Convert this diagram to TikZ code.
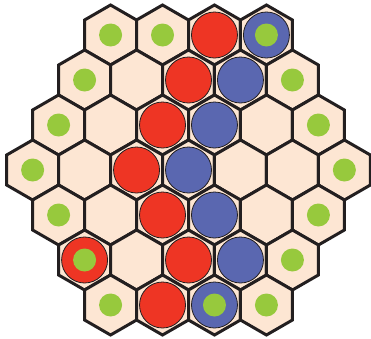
\documentclass[tikz,border=0pt]{standalone}
\usepackage{tikz}
\usetikzlibrary{shapes.geometric}

\definecolor{cellfill}{RGB}{253,230,211}
\definecolor{celledge}{RGB}{35,31,32}
\definecolor{stonered}{RGB}{238,53,36}
\definecolor{stoneblue}{RGB}{90,103,176}
\definecolor{markgreen}{RGB}{151,201,61}

\begin{document}
\begin{tikzpicture}[x=1pt, y=-1pt,
	hexcell/.style={
		draw=celledge,
		fill=cellfill,
		line width=3pt,
		regular polygon,
		regular polygon sides=6,
		shape border rotate=30,
		minimum size=60pt,
		inner sep=0pt,
		outer sep=0pt
	},
	redstone/.style={
		circle,
		draw=celledge,
		line width=0.8pt,
		fill=stonered,
		minimum size=46pt,
		inner sep=0pt
	},
	bluestone/.style={
		circle,
		draw=celledge,
		line width=0.8pt,
		fill=stoneblue,
		minimum size=46pt,
		inner sep=0pt
	},
	goal/.style={
		circle,
		fill=markgreen,
		minimum size=23pt,
		inner sep=0pt
	}
	]
	\useasboundingbox (0,0) rectangle (371,338);

	% Board: rows of 4,5,6,7,6,5,4 cells
	\foreach \r/\n in {0/4,1/5,2/6,3/7,4/6,5/5,6/4} {
		\pgfmathsetmacro\lastc{int(\n-1)}
		\foreach \c in {0,...,\lastc} {
			\pgfmathsetmacro\hx{188.5+(\c-(\n-1)/2)*51.96}
			\node[hexcell] (h-\r-\c) at (\hx,{35+45*\r}) {};
		}
	}

	% Red stones
	\foreach \cell in {0-2,1-2,2-2,3-2,4-2,5-0,5-2,6-1}
		\node[redstone] (red-\cell) at (h-\cell) {};

	% Blue stones
	\foreach \cell in {0-3,1-3,2-3,3-3,4-3,5-3,6-2}
		\node[bluestone] (blue-\cell) at (h-\cell) {};

	% Green marks on the border
	\foreach \cell in {0-0,0-1,0-3,1-0,1-4,2-0,2-5,3-0,3-6,4-0,4-5,5-0,5-4,6-0,6-2,6-3}
		\node[goal] (goal-\cell) at (h-\cell) {};

\end{tikzpicture}
\end{document}
